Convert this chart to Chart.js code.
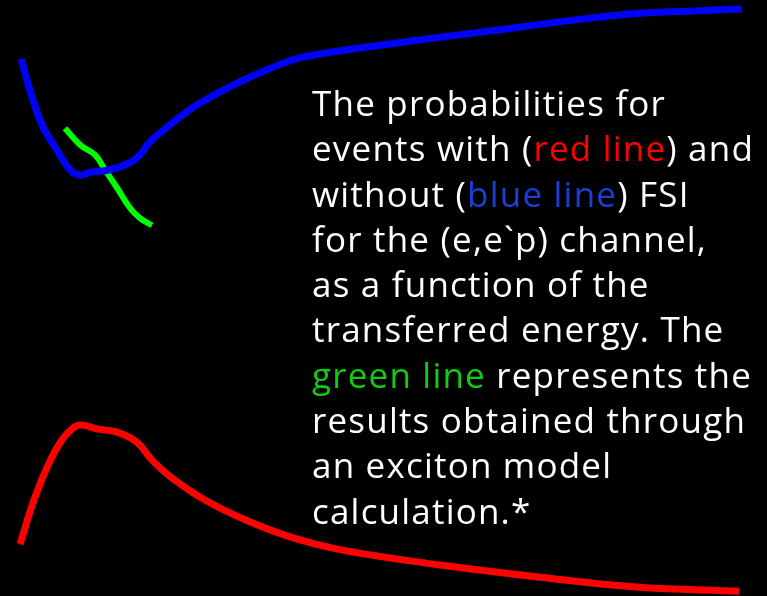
<!DOCTYPE html>
<html>
<head>
<meta charset="utf-8">
<script src="https://cdn.jsdelivr.net/npm/chart.js@4/dist/chart.umd.min.js"></script>
<style>
    html, body { margin: 0; padding: 0; background: #000; }
    #wrap { position: relative; width: 767px; height: 596px; background: #000; overflow: hidden; }
    #plot { position: absolute; left: 0; top: 0; }
    #caption {
        position: absolute; left: 312px; top: 80px;
        font-family: "Comic Sans MS", "Open Sans", sans-serif;
        font-size: 35px; line-height: 45.3px; letter-spacing: 1.2px;
        color: #fff; white-space: nowrap;
    }
    .red { color: #ff0000; }
    .blue { color: #1a3fd6; }
    .green { color: #12cc12; }
</style>
</head>
<body>
<div id="wrap">
    <canvas id="plot" width="767" height="596"></canvas>
    <div id="caption">
        <div>The probabilities for</div>
        <div>events with (<span class="red">red line</span>) and</div>
        <div>without (<span class="blue">blue line</span>) FSI</div>
        <div>for the (e,e`p) channel,</div>
        <div>as a function of the</div>
        <div>transferred energy. The</div>
        <div><span class="green">green line</span> represents the</div>
        <div>results obtained through</div>
        <div>an exciton model</div>
        <div>calculation.*</div>
    </div>
</div>
<script>
// transferred energy (arb. units) and probabilities
const blueEnergy = [2.74, 4.30, 5.61, 7.43, 9.13, 10.43, 11.73, 14.34, 16.95, 18.25, 19.56, 23.47, 26.08, 30.38, 34.81, 39.11, 47.85, 56.45, 65.19, 73.92, 82.53, 91.26, 96.74];
const blueProb   = [0.901, 0.832, 0.787, 0.748, 0.715, 0.706, 0.711, 0.715, 0.727, 0.740, 0.762, 0.804, 0.827, 0.857, 0.883, 0.903, 0.921, 0.936, 0.950, 0.965, 0.977, 0.982, 0.985];

const redEnergy = [2.61, 4.43, 6.39, 8.08, 9.52, 10.56, 12.78, 15.25, 17.86, 19.82, 22.42, 26.73, 31.94, 38.33, 44.59, 57.37, 70.14, 82.92, 96.35];
const redProb   = [0.087, 0.161, 0.223, 0.262, 0.282, 0.287, 0.280, 0.275, 0.258, 0.228, 0.198, 0.161, 0.128, 0.097, 0.077, 0.052, 0.032, 0.015, 0.008];

const greenEnergy = [8.47, 10.43, 12.39, 13.69, 15.25, 16.95, 18.25, 19.82];
const greenProb   = [0.785, 0.757, 0.740, 0.715, 0.685, 0.651, 0.634, 0.622];

const toPoints = (xs, ys) => xs.map((x, i) => ({ x: x, y: ys[i] }));

const series = (data, color, width) => ({
    data: data,
    borderColor: color,
    borderWidth: width,
    pointRadius: 0,
    tension: 0.4,
    fill: false
});

new Chart(document.getElementById('plot'), {
    type: 'line',
    data: {
        datasets: [
            series(toPoints(blueEnergy, blueProb), '#0000ff', 7),
            series(toPoints(redEnergy, redProb), '#ff0000', 7),
            series(toPoints(greenEnergy, greenProb), '#00ff00', 6)
        ]
    },
    options: {
        responsive: false,
        animation: false,
        layout: { padding: 0 },
        scales: {
            x: { type: 'linear', min: 0, max: 100, display: false },
            y: { min: 0, max: 1, display: false }
        },
        plugins: { legend: { display: false }, tooltip: { enabled: false } }
    }
});
</script>
</body>
</html>
